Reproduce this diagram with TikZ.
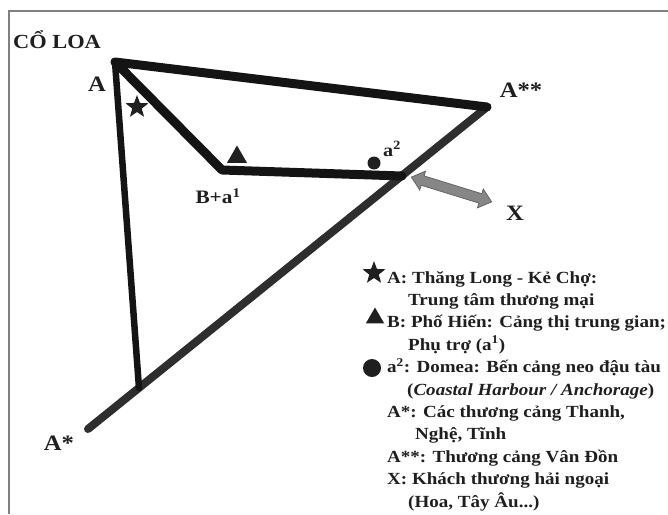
\documentclass[tikz,border=0pt]{standalone}
\usepackage{fontspec}
\setmainfont[FakeStretch=1.12]{Liberation Serif}
\usetikzlibrary{positioning,arrows.meta,shapes.geometric,shapes.arrows}

\begin{document}
\begin{tikzpicture}[x=1pt,y=-1pt,
  road/.style={line width=9pt, black!92, line cap=round, line join=round},
  lbl/.style={font=\bfseries\fontsize{22}{24}\selectfont, text=black!88, inner sep=0pt},
  key/.style={font=\bfseries\fontsize{17}{19}\selectfont, text=black!88, inner sep=0pt, anchor=base west},
  starmark/.style={star, star points=5, star point ratio=2.4, fill=black!88, inner sep=0pt, minimum size=#1},
  trimark/.style={regular polygon, regular polygon sides=3, fill=black!88, inner sep=0pt, minimum size=#1},
  dotmark/.style={circle, fill=black!88, inner sep=0pt, minimum size=#1},
  xarrow/.style={double arrow, fill=gray!95, draw=black!60, line width=0.8pt, inner xsep=0pt, inner ysep=4.5pt,
    minimum height=84pt, double arrow head extend=5pt, double arrow tip angle=80}]
\useasboundingbox (0,0) rectangle (668,514);
\draw[gray, line width=1.2pt] (9,514) -- (9,11) -- (668,11);

% trade routes
\coordinate (A) at (115,62);
\coordinate (A2) at (487,107);
\coordinate (B) at (222,170);
\coordinate (As) at (88,429);
\coordinate (J) at (402,176);
\coordinate (F) at (139,388);
\draw[road, line width=8pt, black!82] (As) -- (A2);
\draw[road] (A2) -- (A) -- (B) -- (J);
\draw[road, line width=6.5pt] (A) -- (F);

% places on the routes
\node[starmark=24pt] (st) at (137,107) {};
\node[trimark=23pt] (tr) at (237,157) {};
\node[dotmark=13pt] (dt) at (374,163) {};

\node[lbl, font=\bfseries\fontsize{20}{22}\selectfont] (cl) at (57,40) {CỔ LOA};
\node[lbl] (la) at (97,84) {A};
\node[lbl] (la2) at (521,90) {A**};
\node[lbl] (las) at (59,443) {A*};
\node[lbl, font=\bfseries\fontsize{19}{21}\selectfont] (lb) at (218,196) {B+a\textsuperscript{1}};
\node[lbl, font=\bfseries\fontsize{18}{20}\selectfont] (la1) at (392,149) {a\textsuperscript{2}};
\node[lbl] (lx) at (515,213) {X};

% foreign traders
\coordinate (xs) at (411,177);
\coordinate (xe) at (492,202);
\path (xs) -- node[sloped, xarrow] (xa) {} (xe);

% key
\node[starmark=24pt] (kst) at (374,273) {};
\node[trimark=21pt] (ktr) at (375,318) {};
\node[dotmark=18pt] (kdt) at (372,368) {};
\foreach \dx/\t [count=\i] in {
  0/{A: Thăng Long - Kẻ Chợ:},
  21/{Trung tâm thương mại},
  0/{B: Phố Hiến: Cảng thị trung gian;},
  21/{Phụ trợ (a\textsuperscript{1})},
  0/{a\textsuperscript{2}: Domea: Bến cảng neo đậu tàu},
  20/{(\textit{Coastal Harbour / Anchorage})},
  0/{A*: Các thương cảng Thanh,},
  28/{Nghệ, Tĩnh},
  0/{A**: Thương cảng Vân Đồn},
  0/{X: Khách thương hải ngoại},
  21/{(Hoa, Tây Âu...)}}
  \node[key] (k\i) at (387+\dx, 260.6+22.4*\i) {\t};
\end{tikzpicture}
\end{document}
